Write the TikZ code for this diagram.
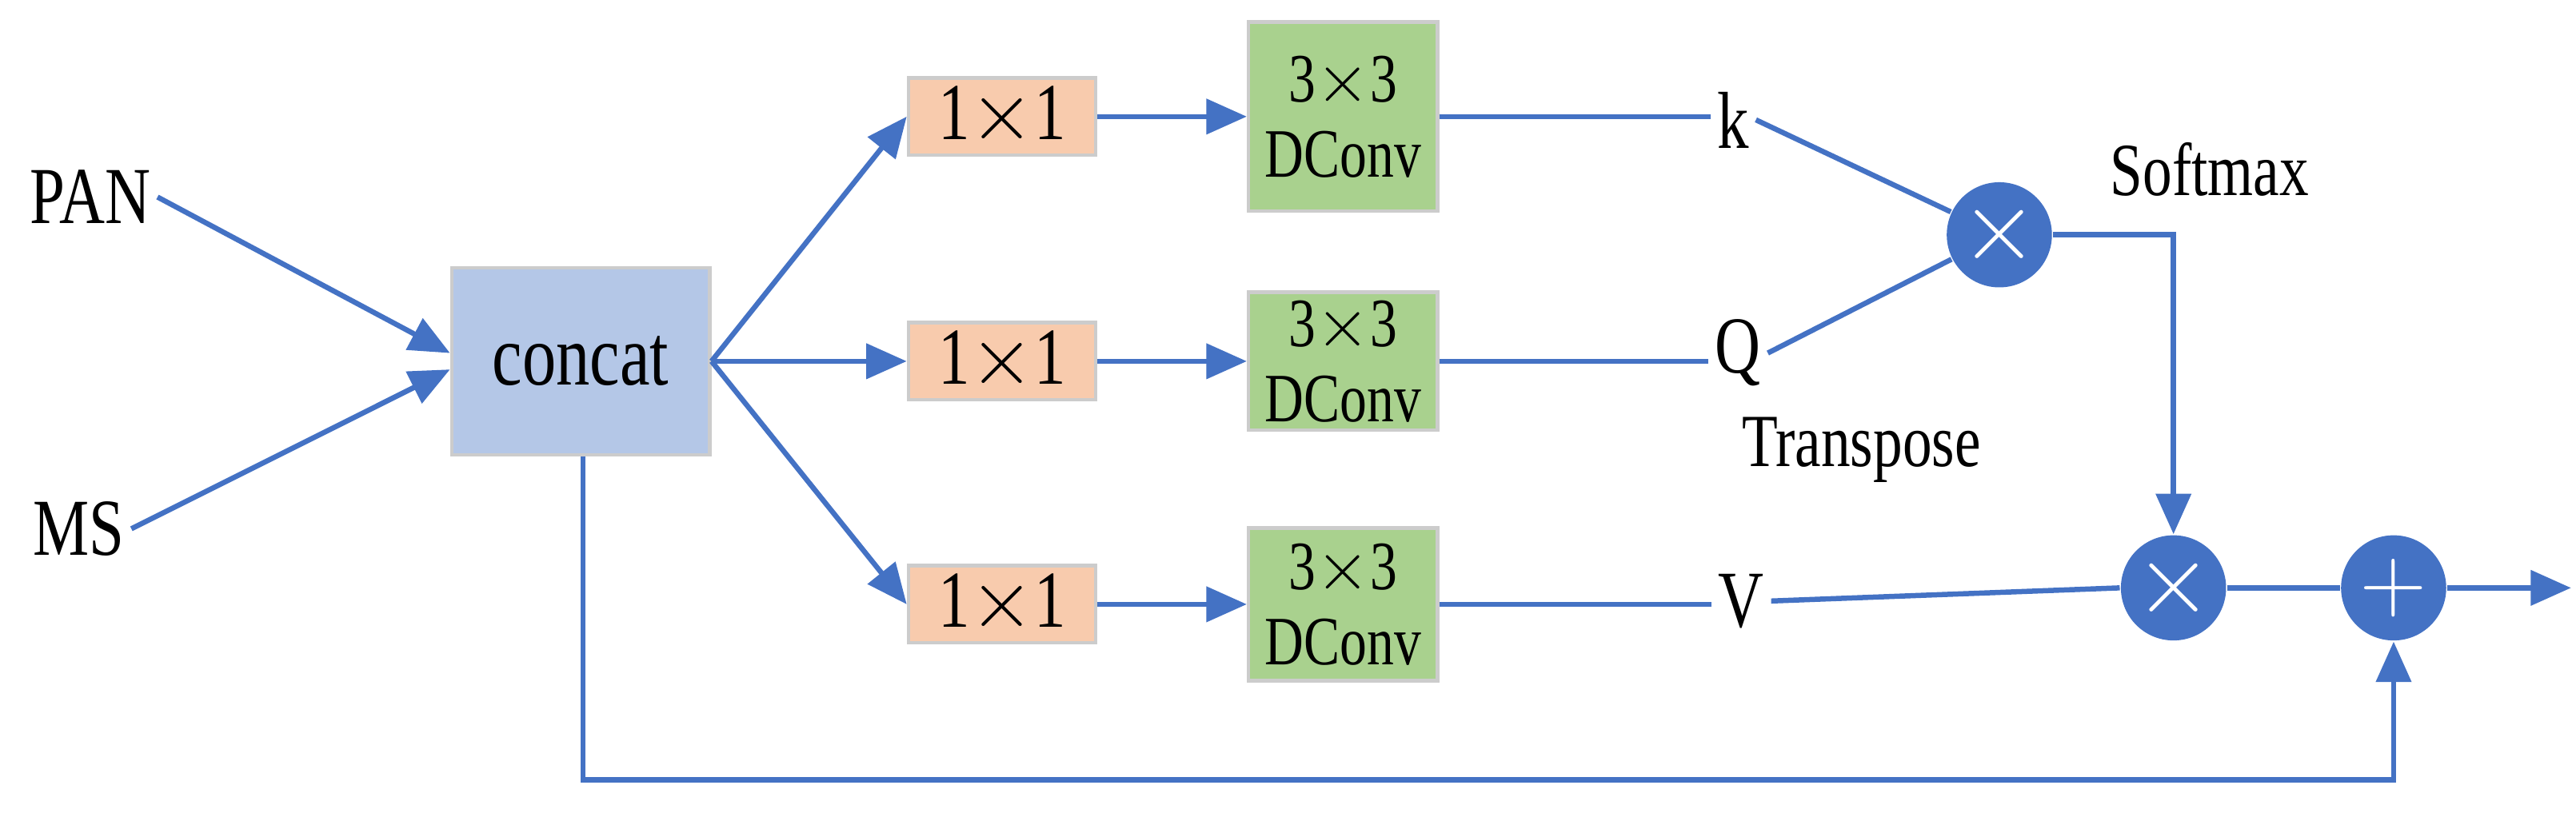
\documentclass[tikz,border=0pt]{standalone}
\usepackage{fontspec}
\setmainfont[FakeStretch=0.78]{Liberation Serif}
\usetikzlibrary{arrows.meta}
\definecolor{lineBlue}{HTML}{4472C4}
\definecolor{boxBlue}{HTML}{B4C7E7}
\definecolor{boxOrange}{HTML}{F8CBAD}
\definecolor{boxGreen}{HTML}{A9D18E}
\begin{document}
\begin{tikzpicture}
[x=0.01cm, y=-0.01cm,
 lineDecorate/.style={lineBlue,line width=0.9pt},
 arrowDecorate/.style={lineDecorate,-{Triangle[length=7pt,width=6pt]}},
 boxDecorate/.style={draw=black!20,line width=0.6pt,inner sep=0pt},
 opDecorate/.style={shape=circle,fill=lineBlue,minimum size=0.64cm,inner sep=0pt,text=white,font=\fontsize{16}{16}\selectfont\sffamily},
 labelDecorate/.style={inner sep=1pt,font=\fontsize{14}{14}\selectfont}]

 \useasboundingbox (0,0) rectangle (1568,495);

 \node (PAN) at (55,120) [labelDecorate] {PAN};
 \node (MS) at (48,322) [labelDecorate] {MS};
 \node (concat) at (353.5,220) [boxDecorate,fill=boxBlue,minimum width=1.57cm,minimum height=1.14cm,font=\fontsize{15}{15}\selectfont] {concat};

 \foreach \n/\y/\h in {1/71/1.15,2/220/0.84,3/368/0.93}
 {
   \node (P\n) at (610,\y) [boxDecorate,fill=boxOrange,minimum width=1.14cm,minimum height=0.47cm,font=\fontsize{14}{14}\selectfont] {1$\times$1};
   \node (D\n) at (817.5,\y) [boxDecorate,fill=boxGreen,minimum width=1.15cm,minimum height=\h cm,align=center,font=\fontsize{12}{13}\selectfont] {3$\times$3\\DConv};
 }
 \node (k) at (1055,73) [labelDecorate] {k};
 \node (Q) at (1058,215) [labelDecorate] {Q};
 \node (V) at (1060,366) [labelDecorate] {V};
 \node (T) at (1133,274) [labelDecorate,font=\fontsize{13}{13}\selectfont] {Transpose};
 \node (S) at (1345,103) [labelDecorate,font=\fontsize{13}{13}\selectfont] {Softmax};

 \node (M1) at (1217,143) [opDecorate] {$\times$};
 \node (M2) at (1323,358) [opDecorate] {$\times$};
 \node (A) at (1457,358) [opDecorate] {+};
 \coordinate (O) at (1565,358);
 \coordinate (C1) at (1323,143);
 \coordinate (C2) at (355,475);
 \coordinate (C3) at (1457,475);

 \draw[arrowDecorate] (PAN.east) -- (concat.west |- 0,215);
 \draw[arrowDecorate] (MS.east) -- (concat.west |- 0,225);
 \foreach \n in {1,2,3}
 {
   \draw[arrowDecorate] (concat.east) -- (P\n.west);
   \draw[arrowDecorate] (P\n) -- (D\n);
 }
 \draw[lineDecorate] (D1.east) -- (k.west |- D1.east);
 \draw[lineDecorate] (D2.east) -- (Q.west |- D2.east);
 \draw[lineDecorate] (D3.east) -- (V.west |- D3.east);
 \draw[lineDecorate] (k.east) -- (M1);
 \draw[lineDecorate] (Q.east) -- (M1);
 \draw[arrowDecorate] (M1.east) -- (C1) -- (M2.north);
 \draw[lineDecorate] (V.east) -- (M2.west);
 \draw[lineDecorate] (M2.east) -- (A.west);
 \draw[arrowDecorate] (A.east) -- (O);
 \draw[arrowDecorate] (concat.south -| C2) -- (C2) -- (C3) -- (A.south);
\end{tikzpicture}
\end{document}
